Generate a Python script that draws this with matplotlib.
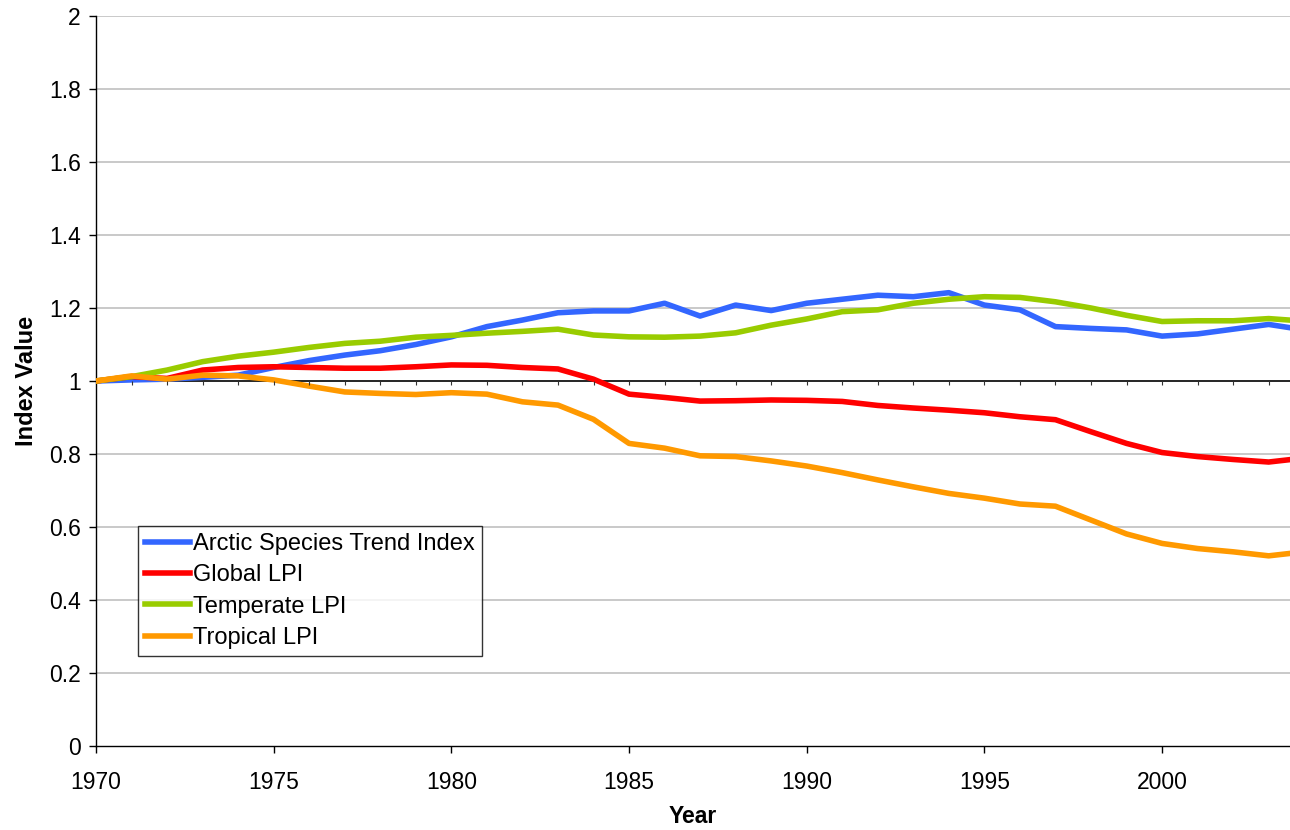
import matplotlib.pyplot as plt
import numpy as np

plt.rcParams['font.family'] = ['Liberation Sans', 'DejaVu Sans']

years = list(range(1970, 2005))

# one value per year
arctic = [1.0, 1.003, 1.005, 1.01, 1.016, 1.037, 1.056, 1.071, 1.083, 1.1,
          1.121, 1.149, 1.167, 1.187, 1.192, 1.192, 1.213, 1.178, 1.208, 1.193,
          1.213, 1.224, 1.235, 1.231, 1.242, 1.208, 1.195, 1.149, 1.144, 1.14,
          1.123, 1.129, 1.142, 1.155, 1.14]
global_lpi = [1.0, 1.012, 1.007, 1.03, 1.037, 1.039, 1.037, 1.035, 1.035, 1.039,
              1.044, 1.043, 1.037, 1.033, 1.005, 0.964, 0.955, 0.945, 0.946, 0.948,
              0.947, 0.944, 0.933, 0.926, 0.92, 0.913, 0.902, 0.894, 0.861, 0.829,
              0.804, 0.793, 0.785, 0.778, 0.789]
temperate = [1.0, 1.012, 1.03, 1.053, 1.068, 1.079, 1.092, 1.103, 1.109, 1.12,
             1.125, 1.131, 1.136, 1.142, 1.126, 1.121, 1.12, 1.123, 1.132, 1.153,
             1.17, 1.19, 1.195, 1.213, 1.224, 1.231, 1.229, 1.217, 1.2, 1.18,
             1.163, 1.165, 1.165, 1.171, 1.164]
tropical = [1.0, 1.014, 1.005, 1.016, 1.014, 1.003, 0.986, 0.97, 0.966, 0.963,
            0.968, 0.964, 0.943, 0.934, 0.895, 0.829, 0.816, 0.795, 0.793, 0.781,
            0.767, 0.749, 0.729, 0.71, 0.692, 0.679, 0.663, 0.657, 0.619, 0.581,
            0.555, 0.541, 0.532, 0.521, 0.532]

series = [("Arctic Species Trend Index", arctic, "#3366FF"),
          ("Global LPI", global_lpi, "#FF0000"),
          ("Temperate LPI", temperate, "#99CC00"),
          ("Tropical LPI", tropical, "#FF9900")]

fig = plt.figure(figsize=(12.9, 8.3), dpi=100)
ax = fig.add_axes([96/1290, 84/830, 1194/1290, 730/830])

xmin, xmax = 1970, 2003.6
ax.set_xlim(xmin, xmax)
ax.set_ylim(0, 2)

# grey gridlines (not at 1, the black reference line sits there)
for g in [0.2, 0.4, 0.6, 0.8, 1.2, 1.4, 1.6, 1.8, 2.0]:
    ax.axhline(g, color="#C0C0C0", lw=1.2, zorder=0)
ax.axhline(1, color="black", lw=1.2, zorder=1)

for name, vals, col in series:
    ax.plot(years, vals, color=col, lw=4.0, label=name, zorder=3,
            solid_joinstyle='round')

ax.set_xticks([1970, 1975, 1980, 1985, 1990, 1995, 2000])
ax.set_yticks(np.arange(0, 2.01, 0.2))
ax.set_yticklabels(["0", "0.2", "0.4", "0.6", "0.8", "1", "1.2", "1.4", "1.6", "1.8", "2"])
ax.tick_params(axis='both', labelsize=16.5, length=5, width=1, direction='out', color='black')
ax.tick_params(axis='x', pad=13)
ax.tick_params(axis='y', pad=6)
for s in ['top', 'right']:
    ax.spines[s].set_visible(False)
for s in ['left', 'bottom']:
    ax.spines[s].set_color('black')
    ax.spines[s].set_linewidth(1)

ax.set_xlabel("Year", fontsize=16.5, fontweight='bold', labelpad=8)
ax.set_ylabel("Index Value", fontsize=17, fontweight='bold', labelpad=8)

# small yearly ticks along the line at 1
ax2 = ax.twiny()
ax2.set_xlim(xmin, xmax)
ax2.spines['bottom'].set_position(('data', 1))
for s in ['top', 'left', 'right', 'bottom']:
    ax2.spines[s].set_visible(False)
ax2.xaxis.set_ticks_position('bottom')
ax2.set_xticks(range(1971, 2004))
ax2.tick_params(axis='x', length=3, width=0.8, direction='out', labelbottom=False,
                labeltop=False, color='#333333')

leg = ax.legend(loc='lower left', bbox_to_anchor=(0.035, 0.123), fontsize=17,
                frameon=True, fancybox=False, handlelength=1.9, handletextpad=0.15,
                borderpad=0.3, labelspacing=0.4, borderaxespad=0)
leg.get_frame().set_edgecolor('black')
leg.get_frame().set_linewidth(1)
leg.set_zorder(5)

fig.savefig("out.png", dpi=100)
